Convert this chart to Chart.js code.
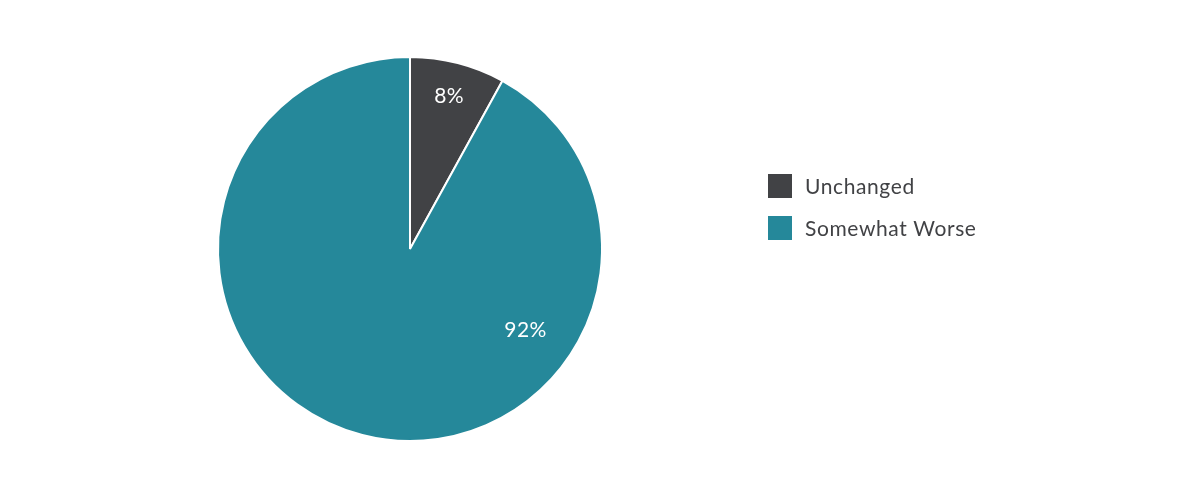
<!DOCTYPE html>
<html><head><meta charset="utf-8">
<script src="https://cdn.jsdelivr.net/npm/chart.js@4/dist/chart.umd.min.js"></script>
<style>html,body{margin:0;padding:0;background:#fff;}#wrap{width:1198px;height:501px;}</style>
</head><body><div id="wrap"><canvas id="c" width="1198" height="501"></canvas></div>
<script>
const categories = ["Unchanged", "Somewhat Worse"];
const values = [8, 92];
const valueLabels = ["8%", "92%"];
const colors = ["#414245", "#25889a"];
// label anchor: angle from top (deg, clockwise) and fraction of radius
const labelAnchors = [null, {angle: 125, frac: 0.735}];

const FONT = "Lato, 'Open Sans', sans-serif";

const labelPlugin = {
  id: 'labels',
  afterDatasetsDraw(chart) {
    const ctx = chart.ctx;
    const meta = chart.getDatasetMeta(0);
    ctx.save();
    ctx.fillStyle = '#ffffff';
    ctx.font = '21px ' + FONT;
    ctx.letterSpacing = '0.5px';
    ctx.textAlign = 'center';
    ctx.textBaseline = 'middle';
    meta.data.forEach((arc, i) => {
      const p = arc.getProps(['x','y','startAngle','endAngle','outerRadius']);
      let ang, r;
      if (labelAnchors[i]) {
        ang = labelAnchors[i].angle * Math.PI/180 - Math.PI/2;
        r = p.outerRadius * labelAnchors[i].frac;
      } else {
        ang = (p.startAngle + p.endAngle)/2;
        r = p.outerRadius * 0.82;
      }
      ctx.fillText(valueLabels[i], p.x + Math.cos(ang)*r, p.y + Math.sin(ang)*r);
    });
    ctx.restore();
  }
};

const legendPlugin = {
  id: 'customLegend',
  afterDraw(chart) {
    const ctx = chart.ctx;
    ctx.save();
    ctx.font = '21px ' + FONT;
    ctx.letterSpacing = '0.6px';
    ctx.textBaseline = 'middle';
    ctx.textAlign = 'left';
    categories.forEach((c, i) => {
      const y = 174 + i*42;
      ctx.fillStyle = colors[i];
      ctx.fillRect(768, y, 24, 24);
      ctx.fillStyle = '#414245';
      ctx.fillText(c, 805, y + 13);
    });
    ctx.restore();
  }
};

new Chart(document.getElementById('c'), {
  type: 'pie',
  data: {
    labels: categories,
    datasets: [{
      data: values,
      backgroundColor: colors,
      borderColor: '#ffffff',
      borderWidth: 2
    }]
  },
  options: {
    responsive: false,
    animation: false,
    layout: {padding: {top: 56, bottom: 59, left: 217, right: 595}},
    plugins: {legend: {display: false}, tooltip: {enabled: false}}
  },
  plugins: [labelPlugin, legendPlugin]
});
</script>
</body></html>
